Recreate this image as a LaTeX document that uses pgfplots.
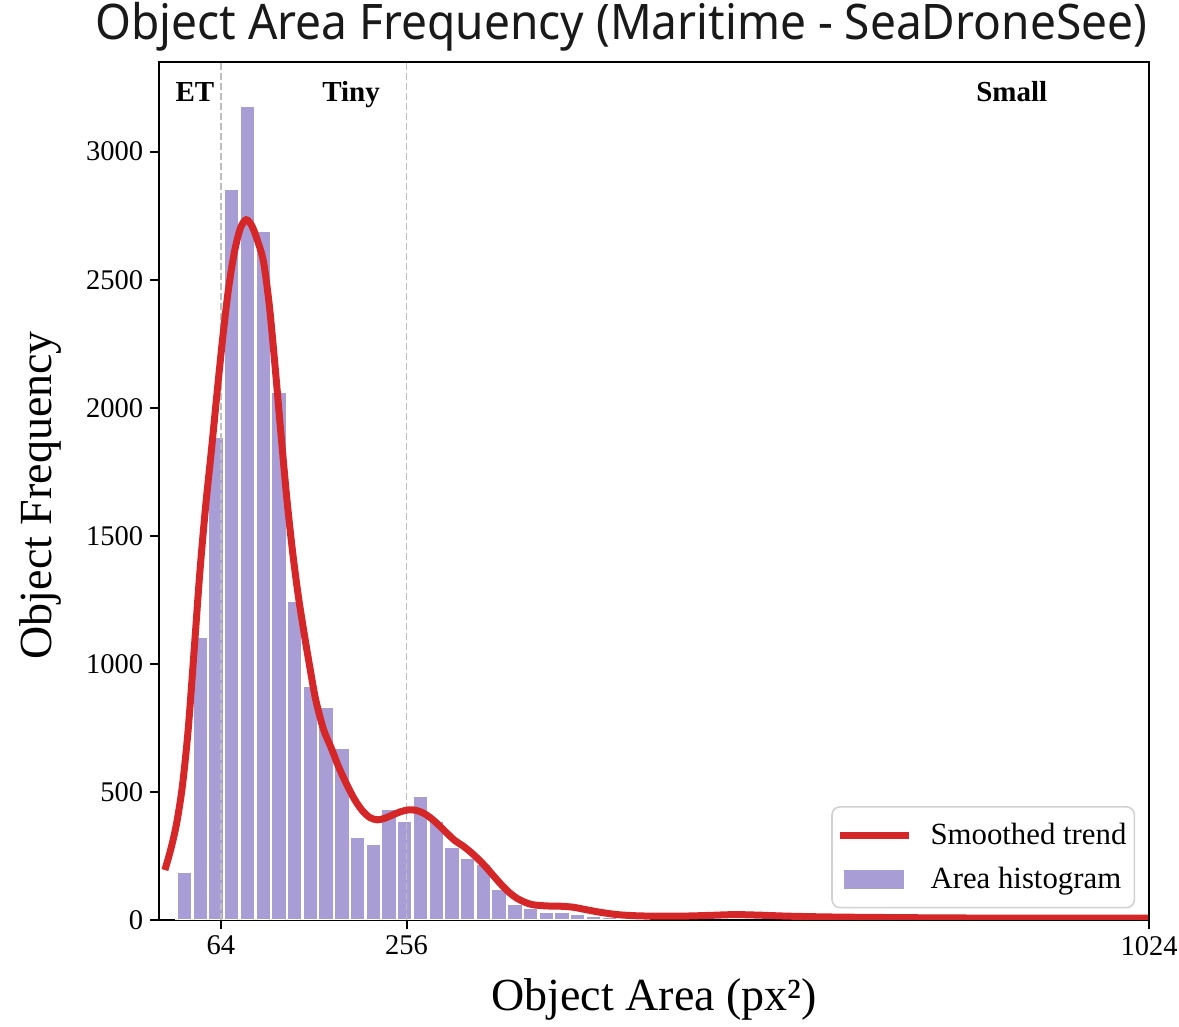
\documentclass[border=0pt]{standalone}
\usepackage{fontspec}
\setmainfont{Liberation Serif}
\newfontfamily\titlefont{Noto Sans}
\usepackage{pgfplots}
\pgfplotsset{compat=1.18}
\definecolor{barcol}{RGB}{168,157,212}
\definecolor{trendred}{RGB}{214,39,40}
\definecolor{dashgray}{RGB}{190,190,190}
\begin{document}
\begin{tikzpicture}
\useasboundingbox (0,0) rectangle (589.5pt,513.5pt);
\begin{axis}[
  at={(79.55pt,53.5pt)}, anchor=south west,
  scale only axis, width=495pt, height=429pt,
  xmin=0, xmax=1024, ymin=0, ymax=3350,
  xtick={64,256,1024}, ytick={0,500,...,3000},
  minor tick num=0,
  tick align=outside, major tick length=4.5pt,
  tick style={black, line width=1pt},
  xtick pos=bottom, ytick pos=left,
  axis line style={line width=1pt},
  /pgf/number format/assume math mode=true,
  /pgf/number format/set thousands separator={},
  ticklabel style={font=\fontsize{14.25}{16}\selectfont},
  xlabel={Object Area (px²)}, ylabel={Object Frequency},
  label style={font=\fontsize{23}{27}\selectfont},
  x label style={at={(axis description cs:0.5,-0.093)}, anchor=center},
  y label style={at={(axis description cs:-0.120,0.495)}, anchor=center},
  title={Object Area Frequency (Maritime - SeaDroneSee)},
  title style={at={(axis description cs:0.4667,1.0117)}, anchor=base,
    font=\titlefont\fontsize{24.5}{28}\selectfont, color=black!90, xscale=0.94},
  legend cell align=left,
  reverse legend=true,
  legend style={at={(0.986,0.0135)}, anchor=south east, draw=gray!35,
    rounded corners=4pt, line width=0.8pt, fill=white,
    font=\fontsize{15.4}{18}\selectfont, row sep=6pt, inner xsep=2pt, inner ysep=6pt},
]
% histogram bars (left edges; last point closes the final bar)
\addplot[ybar interval, fill=barcol, draw=white, line width=1.2pt,
  legend image code/.code={\fill[barcol, draw=none, sharp corners] (2pt,-4.75pt) rectangle (32pt,4.75pt);
    \path[draw=none, fill=none] (0pt,0pt) -- (43.5pt,0pt);}]
coordinates {
(18.2,190) (34.5,1105) (50.7,1885) (67.0,2854) (83.3,3180) (99.6,2689)
(115.8,2064) (132.1,1247) (148.4,914) (164.6,833) (180.9,671) (197.2,323)
(213.4,297) (229.7,436) (246.0,388) (262.3,484) (278.5,389) (294.8,284)
(311.1,241) (327.3,219) (343.6,120) (359.9,62) (376.1,46) (392.4,33)
(408.7,33) (425.0,26) (441.2,18) (457.5,12) (473.8,8) (490.0,5) (506.3,0)
};
\addlegendentry{Area histogram}
% category boundaries
\addplot[forget plot, dashgray, line width=0.6pt, dash pattern=on 3.5pt off 1.5pt] coordinates {(64,0) (64,3350)};
\addplot[forget plot, dashgray, line width=0.6pt, dash pattern=on 3.5pt off 1.5pt] coordinates {(256,0) (256,3350)};
% smoothed trend
\addplot[trendred, line width=3.5pt, smooth, mark=none,
  legend image code/.code={\draw[trendred, line width=3.5pt, sharp corners] (0pt,0pt) -- (34.5pt,0pt);
    \path[draw=none, fill=none] (0pt,0pt) -- (43.5pt,0pt);}]
coordinates {
(6,195) (12,275) (18,375) (24,520) (30,740) (36,1040) (42,1350) (48,1610)
(54,1830) (60,2060) (66,2280) (72,2470) (78,2610) (84,2700) (90,2734)
(96,2710) (102,2650) (108,2570) (114,2400) (120,2160) (126,1900) (132,1650)
(138,1440) (144,1265) (150,1120) (156,985) (162,860) (170,745) (178,672)
(186,595) (194,530) (202,472) (210,428) (218,400) (226,391) (234,398)
(242,411) (250,423) (258,430) (266,428) (274,416) (282,395) (290,368)
(298,338) (306,310) (314,290) (322,266) (330,238) (338,207) (346,172)
(354,138) (362,108) (370,85) (378,70) (386,60) (400,55) (414,54) (428,50)
(442,40) (458,29) (474,21) (490,17) (510,15) (540,15) (570,18) (595,21)
(620,19) (650,15) (690,12) (740,10) (820,8) (920,7) (1023,7)
};
\addlegendentry{Smoothed trend}
\node[font=\bfseries\fontsize{14.5}{16}\selectfont, anchor=base] at (axis cs:37.1,3196) {ET};
\node[font=\bfseries\fontsize{14.5}{16}\selectfont, anchor=base] at (axis cs:198.5,3196) {Tiny};
\node[font=\bfseries\fontsize{14.5}{16}\selectfont, anchor=base] at (axis cs:882,3196) {Small};
\end{axis}
\end{tikzpicture}
\end{document}
